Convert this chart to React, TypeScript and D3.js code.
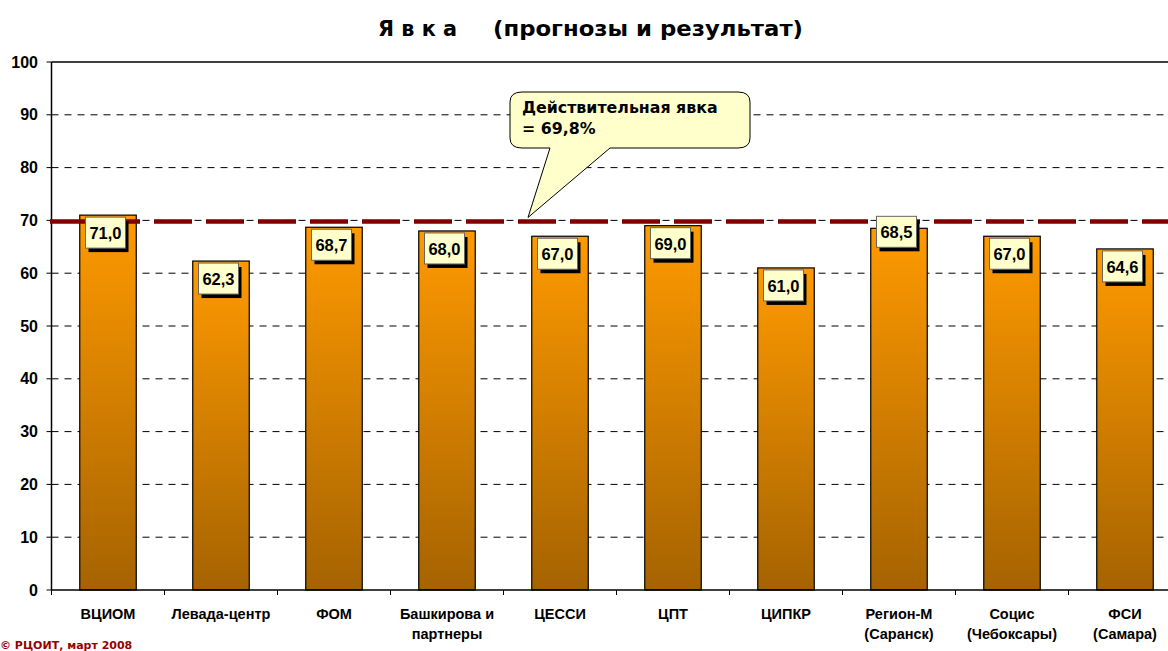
import React from "react";
import * as d3 from "d3";

const categories: string[][] = [
  ["ВЦИОМ"],
  ["Левада-центр"],
  ["ФОМ"],
  ["Башкирова и", "партнеры"],
  ["ЦЕССИ"],
  ["ЦПТ"],
  ["ЦИПКР"],
  ["Регион-М", "(Саранск)"],
  ["Социс", "(Чебоксары)"],
  ["ФСИ", "(Самара)"],
];
const values: number[] = [71.0, 62.3, 68.7, 68.0, 67.0, 69.0, 61.0, 68.5, 67.0, 64.6];
const actualTurnout = 69.8;
const yTicks: number[] = [0, 10, 20, 30, 40, 50, 60, 70, 80, 90, 100];
const titleParts: string[] = ["Я в к а", "(прогнозы и результат)"];
const calloutLines: string[] = ["Действительная явка", "= 69,8%"];
const footnote = "© РЦОИТ, март 2008";

const W = 1168;
const H = 651;
const left = 51.5;
const top = 62;
const bottom = 590;
const step = 113;

export default function App() {
  const keys = categories.map((c) => c.join(" "));
  const x = d3
    .scaleBand<string>()
    .domain(keys)
    .range([left, left + step * keys.length])
    .paddingInner(0.5)
    .paddingOuter(0.25);
  const y = d3.scaleLinear().domain([0, 100]).range([bottom, top]);
  const fmt = (v: number) => v.toFixed(1).replace(".", ",");
  const st = x.step();
  const lineY = y(actualTurnout);
  const font = "'Liberation Sans', Arial, sans-serif";
  const tfont = "'DejaVu Sans', Verdana, sans-serif";

  return (
    <svg
      width={W}
      height={H}
      style={{ position: "absolute", left: 0, top: 0, background: "#fff" }}
    >
      <defs>
        <linearGradient id="barGrad" x1="0" y1="0" x2="0" y2="1">
          <stop offset="0%" stopColor="#FF9A00" />
          <stop offset="100%" stopColor="#A56300" />
        </linearGradient>
      </defs>
      <text
        x={378}
        y={36}
        fontFamily={tfont}
        fontWeight="bold"
        fontSize={20.5}
        textLength={79}
        lengthAdjust="spacingAndGlyphs"
      >
        {titleParts[0]}
      </text>
      <text
        x={493}
        y={36}
        fontFamily={tfont}
        fontWeight="bold"
        fontSize={20.5}
        textLength={310}
        lengthAdjust="spacingAndGlyphs"
      >
        {titleParts[1]}
      </text>
      {yTicks
        .filter((t) => t > 0 && t < 100)
        .map((t) => (
          <line
            key={t}
            x1={left}
            x2={W}
            y1={y(t)}
            y2={y(t)}
            stroke="#000"
            strokeWidth={1}
            strokeDasharray="7,6"
          />
        ))}
      <line x1={left} x2={W} y1={top} y2={top} stroke="#000" strokeWidth={1.5} />
      <line x1={left} x2={left} y1={top} y2={bottom} stroke="#000" strokeWidth={1.5} />
      {yTicks.map((t) => (
        <g key={t}>
          <line x1={left - 5} x2={left} y1={y(t)} y2={y(t)} stroke="#000" strokeWidth={1} />
          <text
            x={38}
            y={y(t) + 5.5}
            textAnchor="end"
            fontFamily={font}
            fontWeight="bold"
            fontSize={16}
          >
            {t}
          </text>
        </g>
      ))}
      {values.map((v, i) => (
        <rect
          key={i}
          x={x(keys[i])!}
          y={y(v)}
          width={x.bandwidth()}
          height={bottom - y(v)}
          fill="url(#barGrad)"
          stroke="#000"
          strokeWidth={1.2}
        />
      ))}
      <line x1={left} x2={W} y1={bottom} y2={bottom} stroke="#000" strokeWidth={1.5} />
      {keys.map((k) => (
        <line
          key={k}
          x1={x(k)! - st * 0.25}
          x2={x(k)! - st * 0.25}
          y1={bottom}
          y2={bottom + 5}
          stroke="#000"
        />
      ))}
      {categories.map((c, i) => (
        <text
          key={i}
          x={x(keys[i])! + x.bandwidth() / 2}
          y={619}
          textAnchor="middle"
          fontFamily={font}
          fontWeight="bold"
          fontSize={14.5}
        >
          {c.map((l, j) => (
            <tspan key={j} x={x(keys[i])! + x.bandwidth() / 2} dy={j === 0 ? 0 : 20}>
              {l}
            </tspan>
          ))}
        </text>
      ))}
      <line
        x1={50}
        x2={W}
        y1={lineY}
        y2={lineY}
        stroke="#800000"
        strokeWidth={4.5}
        strokeDasharray="38,14"
      />
      {values.map((v, i) => {
        const cx = x(keys[i])! + x.bandwidth() / 2;
        const bx = cx - 22.5;
        const raised = i === 7;
        const by = raised ? y(v) - 12 : y(v) + 2;
        return (
          <g key={i}>
            <rect x={bx + 3} y={by + 4} width={40} height={31} fill="#000" />
            <rect
              x={bx}
              y={by}
              width={40}
              height={31}
              fill="#FFFFCC"
              stroke="#666"
              strokeWidth={1}
            />
            <text
              x={bx + 20}
              y={by + 22}
              textAnchor="middle"
              fontFamily={font}
              fontWeight="bold"
              fontSize={16.5}
            >
              {fmt(v)}
            </text>
          </g>
        );
      })}
      <path
        d={`M 522 92 L 738 92 Q 750 92 750 102 L 750 138 Q 750 148 738 148 L 610 148 L 528 ${
          lineY - 4
        } L 550 148 L 522 148 Q 510 148 510 138 L 510 102 Q 510 92 522 92 Z`}
        fill="#FFFFCC"
        stroke="#000"
        strokeWidth={1}
      />
      {calloutLines.map((l, j) => (
        <text
          key={j}
          x={522}
          y={113 + j * 21}
          fontFamily={tfont}
          fontWeight="bold"
          fontSize={15.8}
        >
          {l}
        </text>
      ))}
      <text x={0} y={649} fontFamily={tfont} fontWeight="bold" fontSize={11} fill="#990000">
        {footnote}
      </text>
    </svg>
  );
}
